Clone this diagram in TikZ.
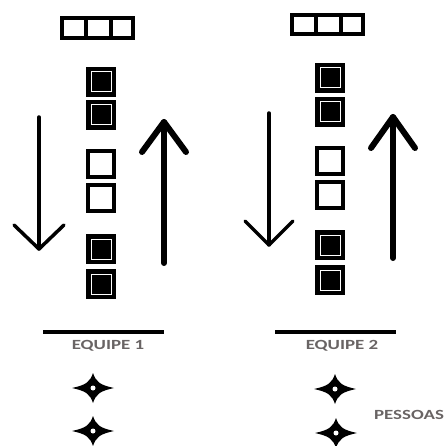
\documentclass[tikz,border=0pt]{standalone}
\usepackage{fontspec}
\setmainfont{Carlito}
\usepackage{tikz}

\definecolor{cinzatexto}{RGB}{105,100,100}

\tikzset{
	rotulo/.style={text=cinzatexto, font=\fontsize{14}{14}\selectfont\bfseries, inner sep=0pt, xscale=1.35},
	seta/.style={line width=3.5pt, line cap=round, line join=round},
	setagrossa/.style={line width=6pt, line cap=round, line join=round},
	borda/.style={line width=4pt}
}

% quadrado cheio com anel branco
\newcommand{\qcheio}[2]{%
	\fill[black] (#1-15,#2-15) -- (#1+15,#2-15) -- (#1+15,#2+15) -- (#1-15,#2+15) -- cycle;
	\draw[white, line width=1pt] (#1-10,#2-10) -- (#1+10,#2-10) -- (#1+10,#2+10) -- (#1-10,#2+10) -- cycle;
}
% quadrado vazio
\newcommand{\qvazio}[2]{%
	\draw[borda] (#1-13,#2-13) -- (#1+13,#2-13) -- (#1+13,#2+13) -- (#1-13,#2+13) -- cycle;
}
% estrela de quatro pontas
\newcommand{\estrela}[2]{%
	\fill[black] (#1-21,#2) .. controls (#1-7,#2-3) and (#1-3,#2-6) .. (#1,#2-15)
		.. controls (#1+3,#2-6) and (#1+7,#2-3) .. (#1+21,#2)
		.. controls (#1+7,#2+3) and (#1+3,#2+6) .. (#1,#2+15)
		.. controls (#1-3,#2+6) and (#1-7,#2+3) .. cycle;
	\fill[white] (#1,#2) circle (2.5);
}

\begin{document}
\begin{tikzpicture}[x=1pt,y=-1pt]
		\useasboundingbox (0,0) rectangle (444,446);
		
		% equipe 1
		\draw[borda] (62,18) -- (133,18) -- (133,38) -- (62,38) -- cycle;
		\draw[borda] (86,18) -- (86,38);
		\draw[borda] (111,18) -- (111,38);
		\qcheio{101}{82}
		\qcheio{101}{115}
		\qvazio{101}{164}
		\qvazio{101}{198}
		\qcheio{101}{249}
		\qcheio{101}{284}
		\draw[seta] (39,117) -- (39,249);
		\draw[seta] (14,225) -- (39,249) -- (64,225);
		\draw[setagrossa] (164,263) -- (164,122);
		\draw[setagrossa] (142,152) -- (164,122) -- (186,152);
		\draw[borda] (43,332) -- (164,332);
		\node[rotulo] (equipe1) at (108,346) {EQUIPE 1};
		\estrela{93}{388}
		\estrela{93}{431}
		
		% equipe 2
		\draw[borda] (292,15) -- (363,15) -- (363,34) -- (292,34) -- cycle;
		\draw[borda] (316,15) -- (316,34);
		\draw[borda] (341,15) -- (341,34);
		\qcheio{330}{78}
		\qcheio{330}{112}
		\qvazio{330}{161}
		\qvazio{330}{195}
		\qcheio{330}{245}
		\qcheio{330}{280}
		\draw[seta] (269,113) -- (269,245);
		\draw[seta] (245,221) -- (269,245) -- (293,221);
		\draw[setagrossa] (393,258) -- (393,117);
		\draw[setagrossa] (371,148) -- (393,117) -- (415,148);
		\draw[borda] (275,332) -- (396,332);
		\node[rotulo] (equipe2) at (342,346) {EQUIPE 2};
		\estrela{335}{389}
		\estrela{336}{433}
		\node[rotulo] (pessoas) at (409,415) {PESSOAS};
	\end{tikzpicture}
\end{document}
